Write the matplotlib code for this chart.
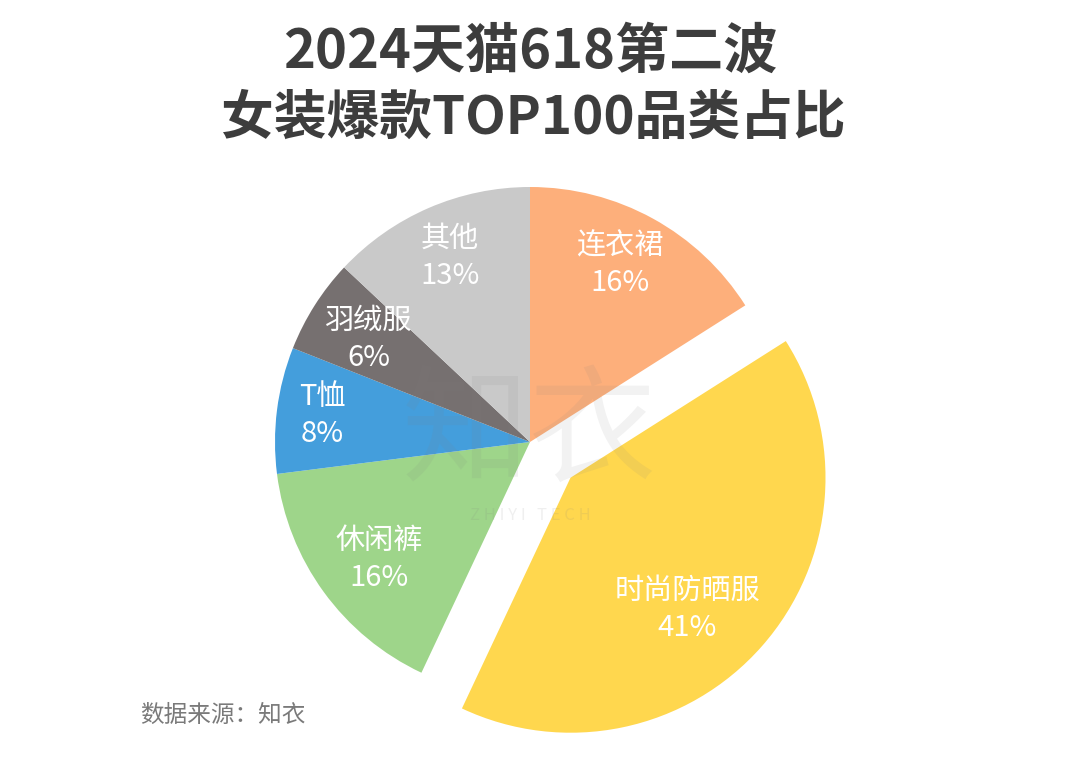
import numpy as np
import matplotlib.pyplot as plt

plt.rcParams['font.family'] = ['Noto Sans CJK SC', 'DejaVu Sans']

# ---- data ----
categories = ['连衣裙', '时尚防晒服', '休闲裤', 'T恤', '羽绒服', '其他']
shares = [16, 41, 16, 8, 6, 13]
colors = ['#FDAF7B', '#FFD74E', '#9ED58A', '#449EDC', '#767070', '#C9C9C9']
explode = [0, 54, 0, 0, 0, 0]   # pixels (pie uses data units)
label_dist = [0.78, 0.69, 0.75, 0.82, 0.75, 0.79]
label_turn = [2, -7, 2, 0, 0, 0]  # degrees nudged off the wedge middle

W, H = 1080, 772
fig = plt.figure(figsize=(W / 100, H / 100), dpi=100)
ax = fig.add_axes([0, 0, 1, 1])
ax.set_xlim(0, W)
ax.set_ylim(0, H)
ax.set_aspect('equal')
ax.axis('off')

cx, cy, r = 530, H - 442, 255
wedges, _ = ax.pie(shares, colors=colors, explode=explode, startangle=90,
                   counterclock=False, center=(cx, cy), radius=r,
                   wedgeprops=dict(linewidth=0))
ax.set_xlim(0, W)
ax.set_ylim(0, H)

for w, name, val, d, t in zip(wedges, categories, shares, label_dist, label_turn):
    mid = np.deg2rad((w.theta1 + w.theta2) / 2 + t)
    wx, wy = w.center
    x = wx + d * r * np.cos(mid)
    y = wy + d * r * np.sin(mid)
    ax.text(x, y, f'{name}\n{val}%', color='white', fontsize=21,
            ha='center', va='center', linespacing=1.3, zorder=5)

# watermark
ax.text(530, H - 436, '知衣', fontsize=92, color='#808080', alpha=0.1,
        ha='center', va='center', zorder=4)
ax.text(530, H - 516, 'Z H I Y I   T E C H', fontsize=12, color='#808080',
        alpha=0.12, ha='center', va='center', zorder=4)

# title
ax.text(530, H - 52, '2024天猫618第二波', fontsize=39, fontweight='bold',
        color='#3D3D3D', ha='center', va='center')
ax.text(533, H - 118, '女装爆款TOP100品类占比', fontsize=38, fontweight='bold',
        color='#3D3D3D', ha='center', va='center')

# source
ax.text(140, H - 715, '数据来源：知衣', fontsize=17, color='#7A7A7A',
        ha='left', va='center')

fig.savefig('out.png', dpi=100, facecolor='white')
